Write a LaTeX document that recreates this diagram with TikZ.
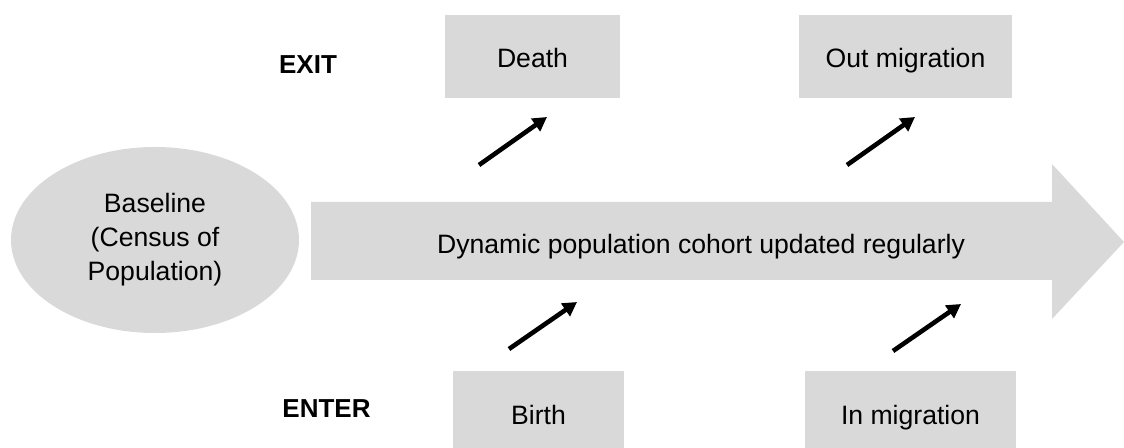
\documentclass[tikz,border=0pt]{standalone}
\usepackage{fontspec}
\setmainfont{Liberation Sans}
\usetikzlibrary{shapes.geometric, arrows.meta}
\definecolor{boxgray}{HTML}{D9D9D9}

\begin{document}
\begin{tikzpicture}[x=0.5pt, y=-0.5pt, >={Triangle[length=7pt, width=7.5pt]},
  every box/.style={fill=boxgray, minimum height=41.5pt, inner sep=0pt,
    text height=11.5pt, text depth=0pt, font=\fontsize{13.3}{16}\selectfont},
  flow/.style={->, line width=2.3pt}]
\useasboundingbox (0,0) rectangle (1124,448);
\clip (0,0) rectangle (1124,448);

% baseline
\node [ellipse, fill=boxgray, minimum width=144pt, minimum height=93pt, inner sep=0pt,
  align=center, font=\fontsize{13.3}{17}\selectfont] (baseline) at (155,240)
  {Baseline\\(Census of\\Population)};

% cohort arrow
\fill [boxgray] (311,202) -- (1052,202) -- (1052,164) -- (1124,242)
  -- (1052,319) -- (1052,280) -- (311,280) -- cycle;
\node [font=\fontsize{13.3}{16}\selectfont] (cohort) at (701,247)
  {Dynamic population cohort updated regularly};

% exit and enter boxes
\foreach \m/\x/\w [count=\i] in {Death/532.5/87.5pt, Out migration/905.5/106.5pt}
  \node [every box, minimum width=\w] (exit-\i) at (\x,56.5) {\m};

\foreach \m/\x/\w [count=\i] in {Birth/538.5/85.5pt, In migration/910.5/105.5pt}
  \node [every box, minimum width=\w] (enter-\i) at (\x,412.5) {\m};

\node [font=\bfseries\fontsize{13}{15}\selectfont] (exit) at (308,64.5) {EXIT};
\node [font=\bfseries\fontsize{13}{15}\selectfont] (enter) at (326.5,409) {ENTER};

% flows
\foreach \a/\b/\c/\d [count=\i] in {479/165/547/117, 847/165/915/117,
    509/349/577/302, 893/351/961/304} {
  \coordinate (flow-\i-a) at (\a,\b);
  \coordinate (flow-\i-b) at (\c,\d);
  \draw [flow] (flow-\i-a) -- (flow-\i-b);
}
\end{tikzpicture}
\end{document}
